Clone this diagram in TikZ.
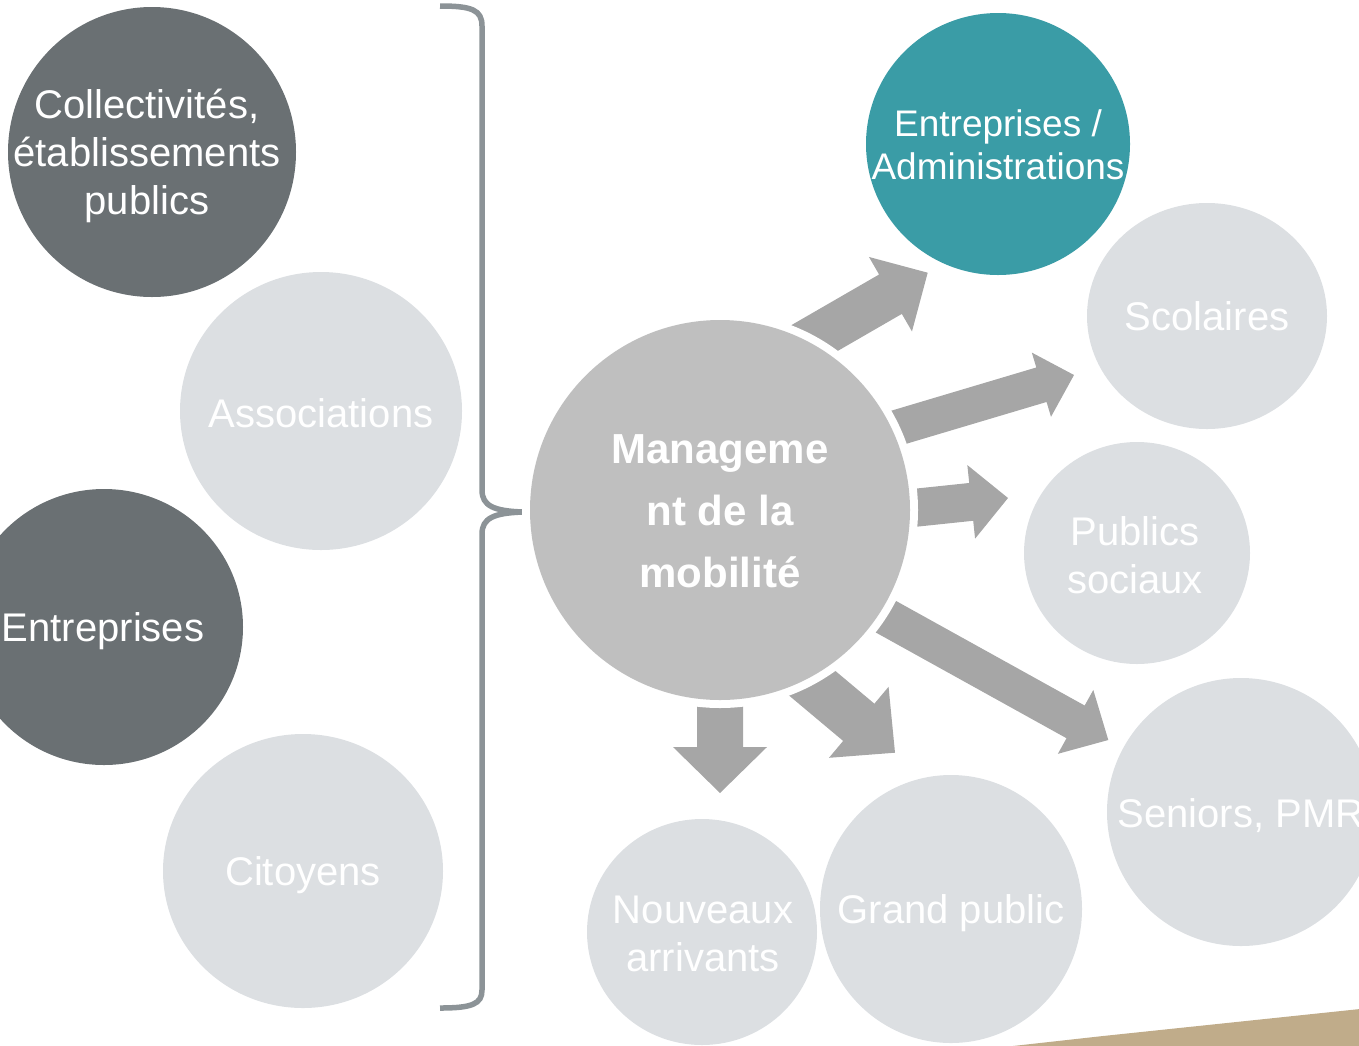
\documentclass[tikz,border=0pt]{standalone}
\usepackage{fontspec}
\setmainfont{Liberation Sans}
\usetikzlibrary{shapes.geometric}
\definecolor{darkc}{HTML}{6A7073}
\definecolor{tealc}{HTML}{3A9CA6}
\definecolor{lightc}{HTML}{DCDFE2}
\definecolor{centerc}{HTML}{BFBFBF}
\definecolor{arrowc}{HTML}{A6A6A6}
\definecolor{bracec}{HTML}{8C9397}
\definecolor{tanc}{HTML}{C0AC8A}
% tip x, tip y, angle, length, shaft width, head width, head length
\newcommand{\blkarrow}[7]{%
  \fill[arrowc, shift={(#1,#2)}, rotate=#3] (0,0) -- (-#7,#6/2) -- (-#7,#5/2) -- (-#4,#5/2)
    -- (-#4,-#5/2) -- (-#7,-#5/2) -- (-#7,-#6/2) -- cycle;}
\begin{document}
\begin{tikzpicture}[x=0.5pt,y=-0.5pt,
  disc/.style={ellipse, inner sep=0pt, outer sep=0pt, draw=none},
  lbl/.style={text=white, align=center, inner sep=0pt, font=\fontsize{20}{24}\selectfont},
  brace/.style={draw=bracec, line width=2.75pt}]
\useasboundingbox (0,0) rectangle (1359,1045);
\clip (0,0) rectangle (1359,1045);

% left group
\node[disc, fill=darkc, minimum width=144pt, minimum height=145pt] (coll) at (152,152) {};
\node[disc, fill=lightc, minimum width=141pt, minimum height=139pt] (assoc) at (321,411) {};
\node[disc, fill=darkc, minimum width=139pt, minimum height=138pt] (entr) at (104,627) {};
\node[disc, fill=lightc, minimum width=140pt, minimum height=137pt] (citoy) at (303,871) {};

\node[lbl] (t-coll) at (147,156) {Collectivités,\\établissements\\publics};
\node[lbl] (t-assoc) at (321,413) {Associations};
\node[lbl] (t-entr) at (103,631) {Entreprises};
\node[lbl] (t-citoy) at (303,875) {Citoyens};

% brace
\coordinate (btip) at (523,512);
\draw[brace] (440,6) .. controls (472,6) and (482,10) .. (482,26) -- (482,490)
  .. controls (482,506) and (494,511) .. (btip)
  .. controls (494,513) and (482,518) .. (482,534) -- (482,990)
  .. controls (482,1004) and (472,1008) .. (440,1008);

% right group
\node[disc, fill=tealc, minimum width=132pt, minimum height=131pt] (admin) at (998,144) {};
\node[disc, fill=lightc, minimum width=120pt, minimum height=113pt] (scol) at (1207,316) {};
\node[disc, fill=lightc, minimum width=113pt, minimum height=111pt] (pubs) at (1137,553) {};
\node[disc, fill=lightc, minimum width=134pt, minimum height=134pt] (senior) at (1241,812) {};
\node[disc, fill=lightc, minimum width=131pt, minimum height=134pt] (grand) at (951,909) {};
\node[disc, fill=lightc, minimum width=115pt, minimum height=113pt] (nouv) at (702,932) {};

\node[lbl, font=\fontsize{18.5}{21.5}\selectfont] (t-admin) at (998,145) {Entreprises /\\Administrations};
\node[lbl] (t-scol) at (scol) {Scolaires};
\node[lbl] (t-pubs) at (1135,555) {Publics\\sociaux};
\node[lbl] (t-senior) at (1241,816) {Seniors, PMR};
\node[lbl] (t-grand) at (951,913) {Grand public};
\node[lbl] (t-nouv) at (703,934) {Nouveaux\\arrivants};

% block arrows
\blkarrow{927.7}{272.7}{30}{170}{45.5}{86}{43}
\blkarrow{1074}{375}{16.6}{230}{36}{67}{34}
\blkarrow{1008}{498}{6}{140}{38}{74}{37}
\blkarrow{1108.3}{740}{-29}{300}{37.4}{73}{37.4}
\blkarrow{895}{752.7}{-40}{150}{48.6}{92.7}{47.3}
\blkarrow{720}{793}{-90}{130}{46}{94}{46}

% centre
\node[disc, fill=white, minimum size=198pt] (halo) at (720,510) {};
\node[disc, fill=centerc, minimum size=190pt] (mgmt) at (720,510) {};
\node[lbl, font=\bfseries\fontsize{21}{31}\selectfont] (t-mgmt) at (720,511) {Manageme\\nt de la\\mobilité};

% corner decoration
\fill[tanc] (1013,1046) -- (1103,1036) -- (1360,1009) -- (1360,1046) -- cycle;
\end{tikzpicture}
\end{document}
